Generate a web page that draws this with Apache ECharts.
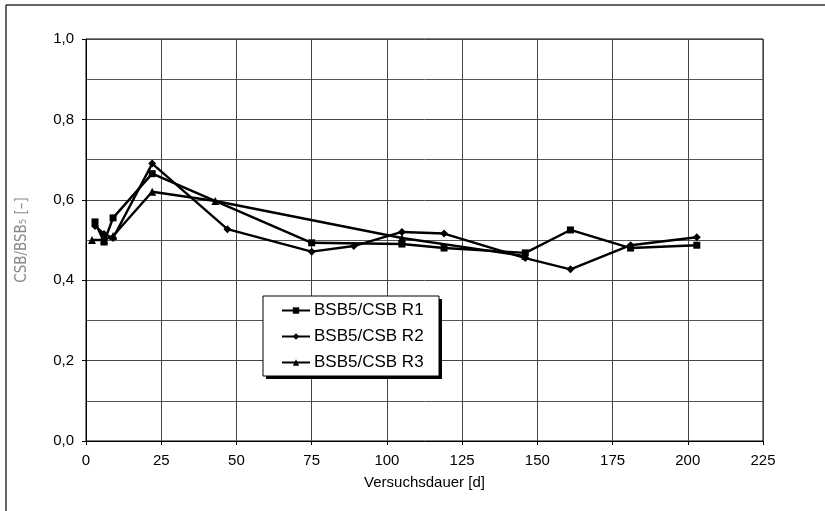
<!DOCTYPE html>
<html>
<head>
<meta charset="utf-8">
<script src="https://cdn.jsdelivr.net/npm/echarts@6/dist/echarts.min.js"></script>
<style>
  html, body { margin: 0; padding: 0; background: #fff; }
  #chart { width: 825px; height: 511px; }
</style>
</head>
<body>
<div id="chart"></div>
<script>
// Ratio CSB/BSB5 over test duration for three reactors
const seriesNames = ['BSB5/CSB R1', 'BSB5/CSB R2', 'BSB5/CSB R3'];

// [day, ratio]
const r1 = [[3, 0.545], [6, 0.495], [9, 0.555], [22, 0.665], [75, 0.493], [105, 0.49],
            [119, 0.48], [146, 0.468], [161, 0.525], [181, 0.48], [203, 0.487]];
const r2 = [[3, 0.535], [6, 0.515], [9, 0.505], [22, 0.69], [47, 0.527], [75, 0.471],
            [89, 0.485], [105, 0.52], [119, 0.516], [146, 0.455], [161, 0.427],
            [181, 0.487], [203, 0.507]];
const r3 = [[2, 0.5], [6, 0.5], [9, 0.51], [22, 0.62], [43, 0.597], [105, 0.505],
            [146, 0.46]];

const xTicks = [0, 225, 25];      // min, max, step
const yTicks = [0, 1, 0.2];       // min, max, step

const fontFam = '"Liberation Sans", Arial, sans-serif';
const chart = echarts.init(document.getElementById('chart'));

function lineSeries(name, data, symbol, size) {
  return {
    name, type: 'line', data,
    symbol, symbolSize: size,
    lineStyle: { color: '#000', width: 2.4 },
    itemStyle: { color: '#000' },
    emphasis: { disabled: true },
    animation: false
  };
}

chart.setOption({
  animation: false,
  graphic: [
    // outer frame (top and left edges)
    { type: 'line', shape: { x1: 6, y1: 5, x2: 825, y2: 5 }, style: { stroke: '#333', lineWidth: 1.5 } },
    { type: 'line', shape: { x1: 6, y1: 5, x2: 6, y2: 511 }, style: { stroke: '#333', lineWidth: 1.5 } },
    // legend box with drop shadow
    { type: 'rect', z: 3, shape: { x: 266, y: 299, width: 176, height: 80 }, style: { fill: '#000' } },
    { type: 'rect', z: 3, shape: { x: 263, y: 296, width: 176, height: 80 }, style: { fill: '#fff', stroke: '#000', lineWidth: 1 } }
  ],
  grid: { left: 86, right: 62, top: 39, bottom: 70, show: true, borderColor: '#000', borderWidth: 1 },
  legend: {
    orient: 'vertical', left: 281, top: 302, z: 10,
    data: seriesNames,
    itemWidth: 28, itemHeight: 8, itemGap: 9,
    padding: 0,
    textStyle: { fontFamily: fontFam, fontSize: 17, color: '#000', padding: [0, 0, 0, -1] }
  },
  xAxis: {
    type: 'value', min: xTicks[0], max: xTicks[1], interval: xTicks[2],
    name: 'Versuchsdauer [d]', nameLocation: 'middle', nameGap: 34,
    nameTextStyle: { fontFamily: fontFam, fontSize: 15, color: '#000' },
    axisLine: { show: true, lineStyle: { color: '#000' } },
    axisTick: { show: true, length: 4, inside: false, lineStyle: { color: '#000' } },
    axisLabel: { fontFamily: fontFam, fontSize: 15, color: '#000', margin: 12 },
    splitLine: { show: true, lineStyle: { color: '#444', width: 1 } }
  },
  yAxis: {
    type: 'value', min: yTicks[0], max: yTicks[1], interval: yTicks[2],
    name: 'CSB/BSB\u2085 [\u2013]', nameLocation: 'middle', nameGap: 56,
    nameTextStyle: { fontFamily: '"DejaVu Sans Condensed", "Liberation Sans Narrow", sans-serif', fontSize: 15, color: '#888' },
    axisLine: { show: true, lineStyle: { color: '#000' } },
    axisTick: { show: true, length: 4, lineStyle: { color: '#000' } },
    minorTick: { show: false, splitNumber: 2 },
    minorSplitLine: { show: true, lineStyle: { color: '#555', width: 1 } },
    axisLabel: {
      fontFamily: fontFam, fontSize: 15, color: '#000', margin: 12,
      formatter: v => v.toFixed(1).replace('.', ',')
    },
    splitLine: { show: true, lineStyle: { color: '#444', width: 1 } }
  },
  series: [
    lineSeries(seriesNames[0], r1, 'rect', 7),
    lineSeries(seriesNames[1], r2, 'diamond', 8),
    lineSeries(seriesNames[2], r3, 'triangle', 8)
  ]
});
</script>
</body>
</html>
